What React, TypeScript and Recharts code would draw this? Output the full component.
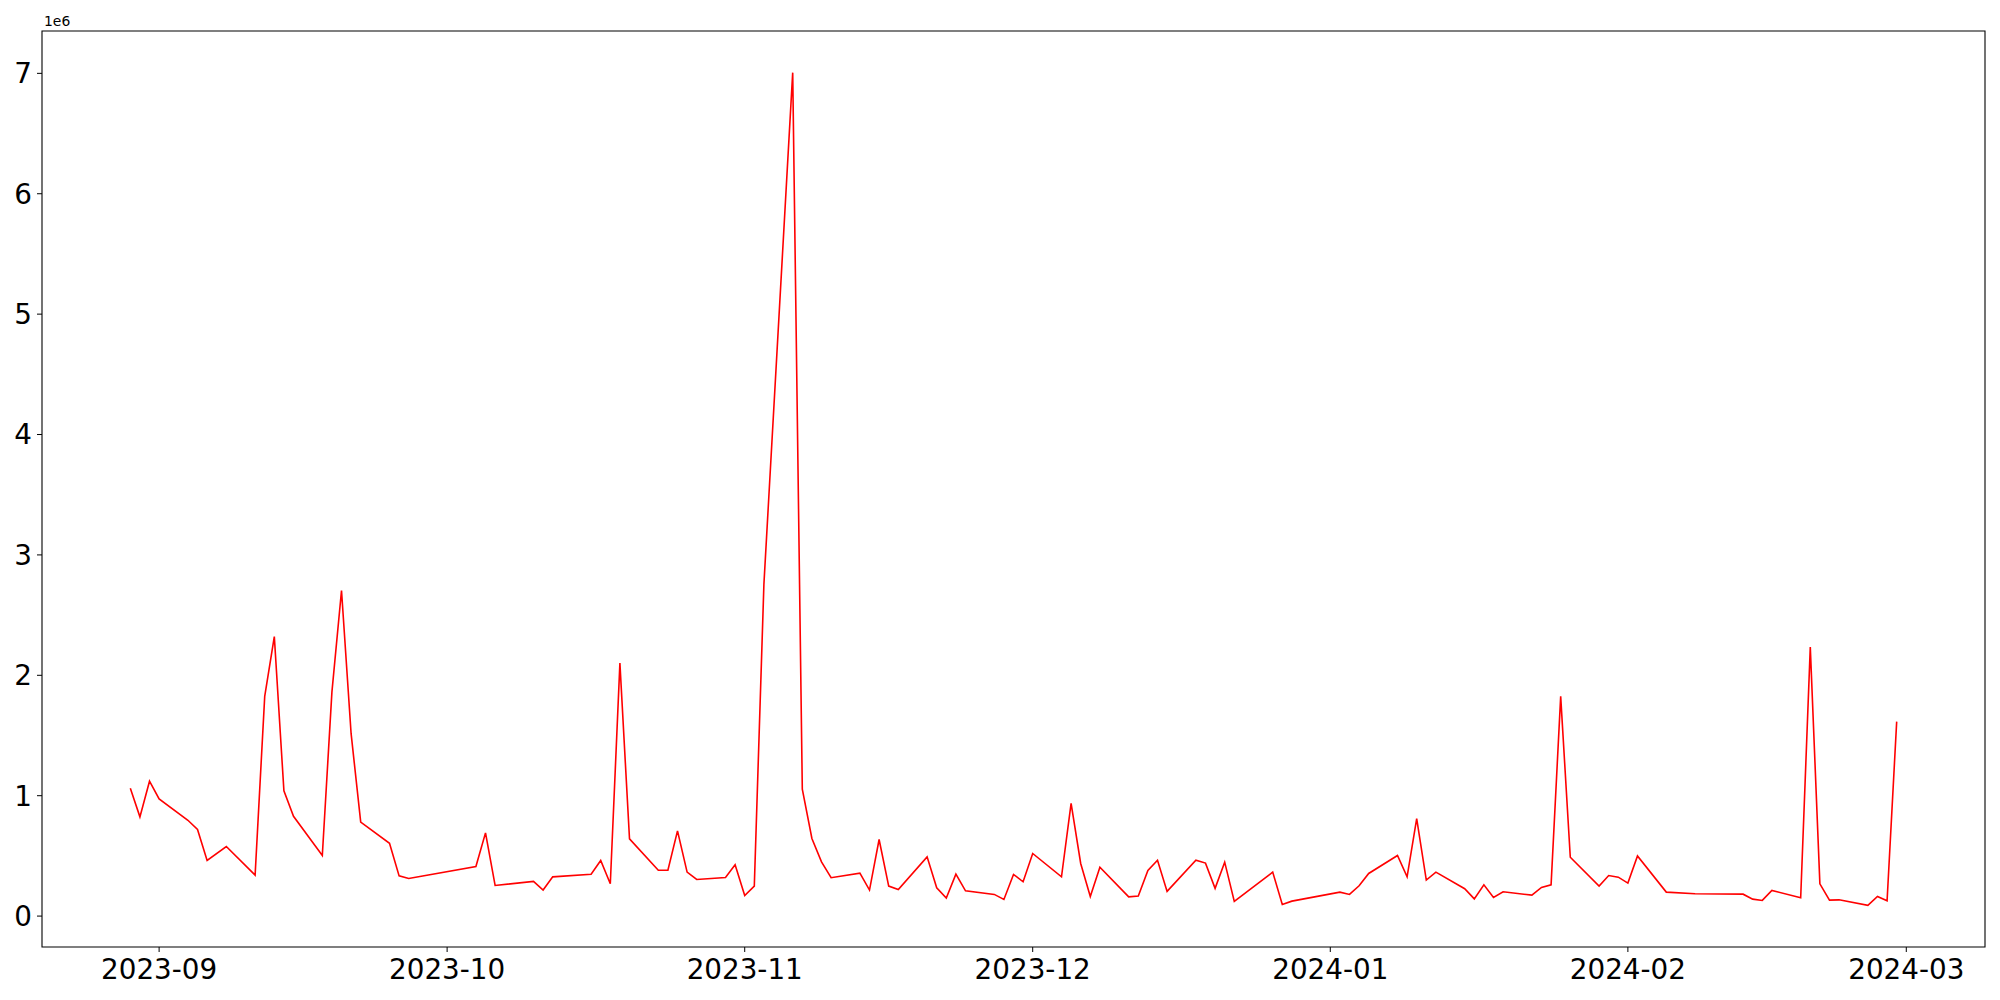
import { Line, LineChart, ReferenceArea, XAxis, YAxis } from "recharts";

const dates = [
  "2023-08-29", "2023-08-30", "2023-08-31", "2023-09-01", "2023-09-04", "2023-09-05", "2023-09-06",
  "2023-09-08", "2023-09-11", "2023-09-12", "2023-09-13", "2023-09-14", "2023-09-15", "2023-09-18",
  "2023-09-19", "2023-09-20", "2023-09-21", "2023-09-22", "2023-09-25", "2023-09-26", "2023-09-27",
  "2023-10-04", "2023-10-05", "2023-10-06", "2023-10-10", "2023-10-11", "2023-10-12", "2023-10-16",
  "2023-10-17", "2023-10-18", "2023-10-19", "2023-10-20", "2023-10-23", "2023-10-24", "2023-10-25",
  "2023-10-26", "2023-10-27", "2023-10-30", "2023-10-31", "2023-11-01", "2023-11-02", "2023-11-03",
  "2023-11-06", "2023-11-07", "2023-11-08", "2023-11-09", "2023-11-10", "2023-11-13", "2023-11-14",
  "2023-11-15", "2023-11-16", "2023-11-17", "2023-11-20", "2023-11-21", "2023-11-22", "2023-11-23",
  "2023-11-24", "2023-11-27", "2023-11-28", "2023-11-29", "2023-11-30", "2023-12-01", "2023-12-04",
  "2023-12-05", "2023-12-06", "2023-12-07", "2023-12-08", "2023-12-11", "2023-12-12", "2023-12-13",
  "2023-12-14", "2023-12-15", "2023-12-18", "2023-12-19", "2023-12-20", "2023-12-21", "2023-12-22",
  "2023-12-26", "2023-12-27", "2023-12-28", "2024-01-02", "2024-01-03", "2024-01-04", "2024-01-05",
  "2024-01-08", "2024-01-09", "2024-01-10", "2024-01-11", "2024-01-12", "2024-01-15", "2024-01-16",
  "2024-01-17", "2024-01-18", "2024-01-19", "2024-01-22", "2024-01-23", "2024-01-24", "2024-01-25",
  "2024-01-26", "2024-01-29", "2024-01-30", "2024-01-31", "2024-02-01", "2024-02-02", "2024-02-05",
  "2024-02-08", "2024-02-13", "2024-02-14", "2024-02-15", "2024-02-16", "2024-02-19", "2024-02-20",
  "2024-02-21", "2024-02-22", "2024-02-23", "2024-02-26", "2024-02-27", "2024-02-28", "2024-02-29",
];

const values = [
  1062000, 824000, 1120000, 973000, 796000, 719000, 462000,
  578000, 340000, 1825000, 2322000, 1040000, 829000, 503000,
  1860000, 2704000, 1515000, 780000, 605000, 334000, 312000,
  412000, 691000, 254000, 288000, 216000, 326000, 348000,
  462000, 268000, 2101000, 641000, 381000, 381000, 708000,
  365000, 304000, 321000, 426000, 170000, 249000, 2756000,
  7006000, 1055000, 645000, 450000, 319000, 357000, 216000,
  636000, 249000, 221000, 492000, 235000, 149000, 348000,
  210000, 180000, 138000, 346000, 285000, 520000, 326000,
  937000, 437000, 163000, 406000, 160000, 166000, 379000,
  464000, 205000, 464000, 440000, 230000, 448000, 122000,
  365000, 97000, 124000, 199000, 180000, 252000, 354000,
  503000, 326000, 810000, 299000, 365000, 227000, 143000,
  260000, 155000, 202000, 174000, 238000, 260000, 1825000,
  489000, 249000, 337000, 323000, 274000, 500000, 199000,
  185000, 182000, 141000, 130000, 213000, 152000, 2234000,
  268000, 133000, 135000, 89000, 163000, 127000, 1615000,
];

const monthTicks = [
  "2023-09-01", "2023-10-01", "2023-11-01", "2023-12-01", "2024-01-01", "2024-02-01", "2024-03-01",
];
const yTicks = [0, 1e6, 2e6, 3e6, 4e6, 5e6, 6e6, 7e6];

const toTime = (d: string) => Date.parse(d + "T00:00:00Z");

const data = dates.map((d, i) => ({ t: toTime(d), v: values[i] }));

// matplotlib-style 5% margins
const tMin = Math.min(...data.map((d) => d.t));
const tMax = Math.max(...data.map((d) => d.t));
const vMin = Math.min(...values);
const vMax = Math.max(...values);
const xDomain = [tMin - 0.05 * (tMax - tMin), tMax + 0.05 * (tMax - tMin)];
const yDomain = [vMin - 0.05 * (vMax - vMin), vMax + 0.05 * (vMax - vMin)];

const FONT = "DejaVu Sans";
const TICK = { fill: "#000", fontSize: 27.8, fontFamily: FONT };

function fmtMonth(t: number) {
  const d = new Date(t);
  return `${d.getUTCFullYear()}-${String(d.getUTCMonth() + 1).padStart(2, "0")}`;
}

export default function App() {
  return (
    <div style={{ position: "absolute", left: 0, top: 0, width: 2000, height: 1000, background: "#fff" }}>
      <LineChart width={2000} height={1000} data={data} margin={{ top: 31, right: 15, bottom: 0, left: 0 }}>
        <XAxis
          dataKey="t"
          type="number"
          domain={xDomain}
          allowDataOverflow
          ticks={monthTicks.map(toTime)}
          interval={0}
          tickFormatter={fmtMonth}
          tick={TICK}
          tickSize={5}
          tickMargin={7}
          tickLine={{ stroke: "#000" }}
          axisLine={false}
          height={53}
        />
        <YAxis
          type="number"
          domain={yDomain}
          allowDataOverflow
          ticks={yTicks}
          interval={0}
          tickFormatter={(v: number) => String(Math.round(v / 1e6))}
          tick={TICK}
          tickSize={5}
          tickMargin={5}
          tickLine={{ stroke: "#000" }}
          axisLine={false}
          width={42}
        />
        <ReferenceArea
          x1={xDomain[0]}
          x2={xDomain[1]}
          y1={yDomain[0]}
          y2={yDomain[1]}
          fill="none"
          stroke="#000"
          strokeWidth={1.1}
          fillOpacity={0}
        />
        <Line
          type="linear"
          dataKey="v"
          stroke="#ff0000"
          strokeWidth={1.6}
          dot={false}
          isAnimationActive={false}
        />
      </LineChart>
      <svg width={200} height={40} style={{ position: "absolute", left: 0, top: 0 }}>
        <text x={44} y={25.5} fontFamily={FONT} fontSize={13.9} fill="#000">
          1e6
        </text>
      </svg>
    </div>
  );
}
